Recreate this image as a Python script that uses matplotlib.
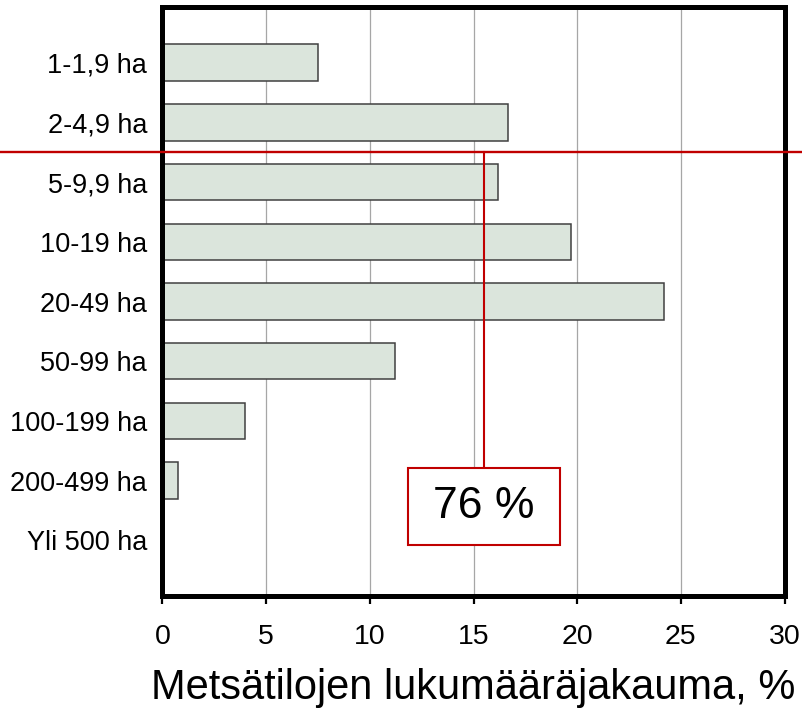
import numpy as np
import matplotlib
matplotlib.use('Agg')
import matplotlib.pyplot as plt
from matplotlib.patches import Rectangle
from matplotlib.transforms import blended_transform_factory

# data
categories = ['1-1,9 ha', '2-4,9 ha', '5-9,9 ha', '10-19 ha', '20-49 ha',
              '50-99 ha', '100-199 ha', '200-499 ha', 'Yli 500 ha']
shares = [7.5, 16.65, 16.2, 19.7, 24.2, 11.2, 4.0, 0.75, 0.0]
xticks = [0, 5, 10, 15, 20, 25, 30]
cum_label = '76 %'
cut_row = 1.5       # red line between 2-4,9 ha and 5-9,9 ha
cut_x = 15.5        # red pointer to the box

regular = ['Liberation Sans', 'DejaVu Sans']
red = '#c00000'

fig = plt.figure(figsize=(8.02, 7.09), dpi=100)
ax = fig.add_axes([0.2026, 0.1587, 0.7756, 0.8321])

y = np.arange(len(categories))
ax.barh(y, shares, height=0.61, color='#dbe5dc', edgecolor='#404040',
        linewidth=1.1, zorder=3)

ax.set_xlim(0, 30)
ax.set_ylim(8.94, -0.94)
ax.set_xticks(xticks)
ax.set_xticklabels([str(t) for t in xticks], family=regular, fontsize=20.5)
ax.set_yticks(y)
ax.set_yticklabels(categories, family=regular, fontsize=19.5)
ax.tick_params(axis='y', length=0, pad=11)
ax.tick_params(axis='x', direction='out', length=6, width=1.6, pad=14)
ax.xaxis.grid(True, color='#a6a6a6', linewidth=0.9, zorder=0)
ax.set_axisbelow(True)
for s in ax.spines.values():
    s.set_linewidth(3.6)
    s.set_color('black')
    s.set_zorder(5)

ax.set_xlabel('Metsätilojen lukumääräjakauma, %', family=regular,
              fontsize=30, va='baseline')
ax.xaxis.set_label_coords(0.5, -0.174)

# red separator line across whole figure
tr = blended_transform_factory(fig.transFigure, ax.transData)
ax.plot([0, 1], [cut_row, cut_row], transform=tr, color=red, lw=1.7,
        clip_on=False, zorder=6)
# pointer and box
box_top = 6.78
box_bot = 8.08
ax.plot([cut_x, cut_x], [cut_row, box_top], color=red, lw=1.5, zorder=6)
ax.add_patch(Rectangle((11.86, box_top), 19.19 - 11.86, box_bot - box_top,
                       facecolor='white', edgecolor=red, lw=1.5, zorder=6))
ax.text(cut_x, (box_top + box_bot) / 2, cum_label, ha='center', va='center',
        family=regular, fontsize=32, zorder=7)

fig.savefig('out.png', dpi=100)
